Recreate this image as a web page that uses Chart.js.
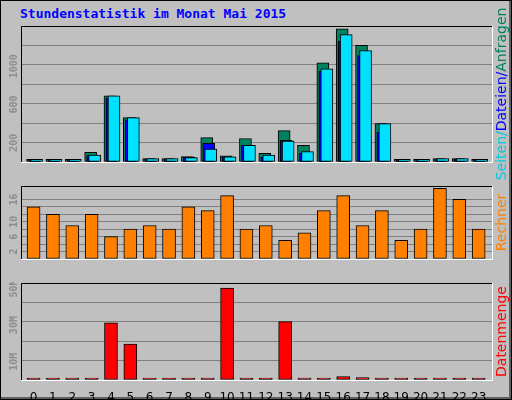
<!DOCTYPE html>
<html>
<head>
<meta charset="utf-8">
<script src="https://cdn.jsdelivr.net/npm/chart.js@4/dist/chart.umd.min.js"></script>
<style>
  body { margin: 0; }
  #wrap { position: relative; width: 512px; height: 400px; background: #c0c0c0; box-sizing: border-box;
          border-top: 1px solid #fff; border-left: 1px solid #fff; border-right: 3px solid #606060; border-bottom: 3px solid #606060;
          outline: 1px solid #000; outline-offset: -1px; }
  #title { position: absolute; left: 19px; top: 5px; font: bold 13px "DejaVu Sans Mono", monospace; color: #0000ff; }
  canvas { position: absolute; left: 0; }
</style>
</head>
<body>
<div id="wrap">
  <div id="title">Stundenstatistik im Monat Mai 2015</div>
  <canvas id="c1" style="top:0"></canvas>
  <canvas id="c2" style="top:184px"></canvas>
  <canvas id="c3" style="top:281px"></canvas>
</div>
<script>
// hours of the day
const hours = [0,1,2,3,4,5,6,7,8,9,10,11,12,13,14,15,16,17,18,19,20,21,22,23];
// Anfragen / Dateien / Seiten
const anfragen = [27,27,27,100,690,463,36,36,57,254,64,245,91,327,173,1036,1390,1218,400,27,27,36,36,27];
const dateien  = [20,20,20,66,666,439,30,30,48,194,55,173,48,227,91,948,1260,1112,312,20,20,30,30,20];
const seiten   = [27,27,27,73,690,463,36,36,45,136,55,173,73,218,109,973,1330,1163,400,27,27,36,36,27];
// Rechner
const rechner = [14,12,9,12,6,8,9,8,14,13,17,8,9,5,7,13,17,9,13,5,8,19,16,8];
// Datenmenge in bytes
const datenmenge = [0.3e6,0.3e6,0.3e6,0.3e6,31.3e6,19.6e6,0.3e6,0.3e6,0.3e6,0.3e6,50.2e6,0.3e6,0.3e6,31.9e6,0.3e6,0.3e6,1.9e6,1.3e6,0.3e6,0.3e6,0.3e6,0.3e6,0.3e6,0.3e6];
// y axis labels shown
const topTicks = [200, 600, 1000];
const midTicks = [2, 6, 10, 16];
const lowTicks = [10e6, 30e6, 50e6];

const pts = arr => arr.map((v, i) => ({ x: hours[i], y: v }));

// shift a dataset by some pixels sideways (overlapping webalizer bars)
const shiftPlugin = {
  id: 'shift',
  beforeDatasetDraw(chart, args) {
    const dx = chart.data.datasets[args.index].dx || 0;
    chart.ctx.save();
    chart.ctx.translate(dx, 0);
  },
  afterDatasetDraw(chart) { chart.ctx.restore(); }
};

// rotated axis labels, right title and panel frame
const decoPlugin = {
  id: 'deco',
  afterDraw(chart, args, o) {
    const { ctx, chartArea: a } = chart;
    const ys = chart.scales.y;
    ctx.save();
    // frame
    ctx.lineWidth = 1;
    ctx.strokeStyle = '#000';
    ctx.beginPath(); ctx.moveTo(a.left + 0.5, a.bottom); ctx.lineTo(a.left + 0.5, a.top + 0.5); ctx.lineTo(a.right, a.top + 0.5); ctx.stroke();
    ctx.strokeStyle = '#fff';
    ctx.beginPath(); ctx.moveTo(a.right + 0.5, a.top); ctx.lineTo(a.right + 0.5, a.bottom + 0.5); ctx.lineTo(a.left, a.bottom + 0.5); ctx.stroke();
    // y labels
    ctx.font = 'bold 10px "DejaVu Sans Mono", monospace';
    ctx.fillStyle = '#8c8c8c';
    ctx.textAlign = 'center';
    ctx.textBaseline = 'middle';
    o.ticks.forEach(v => {
      ctx.save();
      ctx.translate(13, ys.getPixelForValue(v));
      ctx.rotate(-Math.PI / 2);
      ctx.fillText(o.fmt ? o.fmt(v) : String(v), 0, 0);
      ctx.restore();
    });
    // right title, bottom to top
    ctx.font = '14px "DejaVu Sans", sans-serif';
    const total = o.parts.reduce((s, p) => s + ctx.measureText(p[0]).width, 0);
    ctx.translate(501, (a.top + a.bottom) / 2 + total / 2);
    ctx.rotate(-Math.PI / 2);
    ctx.textAlign = 'left';
    let x = 0;
    o.parts.forEach(p => { ctx.fillStyle = p[1]; ctx.fillText(p[0], x, 0); x += ctx.measureText(p[0]).width; });
    ctx.restore();
  }
};

function makeChart(id, h, padTop, padBottom, datasets, yMax, yStep, showX, deco) {
  const el = document.getElementById(id);
  el.width = 512; el.height = h;
  el.style.width = '512px'; el.style.height = h + 'px';
  return new Chart(el, {
    type: 'bar',
    data: { datasets },
    options: {
      responsive: false,
      animation: false,
      layout: { padding: { left: 20, right: 21, top: padTop, bottom: padBottom } },
      plugins: { legend: { display: false }, tooltip: { enabled: false }, deco },
      scales: {
        x: {
          type: 'linear', min: -0.65, max: 23.69, offset: false,
          display: showX,
          border: { display: false },
          grid: { display: false },
          afterBuildTicks: s => { s.ticks = hours.map(v => ({ value: v })); },
          afterFit: s => { s.height = 20; },
          ticks: {
            stepSize: 1, autoSkip: false, maxRotation: 0, padding: 3,
            color: '#000', font: { family: 'DejaVu Sans', size: 12 },
            callback: v => String(v)
          }
        },
        y: {
          min: 0, max: yMax,
          border: { display: false },
          grid: { color: '#808080', drawTicks: false },
          ticks: { display: false, stepSize: yStep }
        }
      }
    },
    plugins: [shiftPlugin, decoPlugin]
  });
}

const bar = (data, color, w, extra) => Object.assign({
  data: pts(data), backgroundColor: color, borderColor: '#000', borderWidth: 1,
  barThickness: w, grouped: false, borderSkipped: false, minBarLength: 2
}, extra);

makeChart('c1', 184, 25, 3, [
  bar(anfragen, '#00805f', 12, { order: 3, dx: -1 }),
  bar(dateien, '#0000ff', 12, { order: 2, dx: 1 }),
  bar(seiten, '#00e0ff', 12, { order: 1, dx: 3 })
], 1420, 200, false, {
  ticks: topTicks,
  parts: [['Seiten/', '#00c8e0'], ['Dateien/', '#0000ff'], ['Anfragen', '#00805f']]
});

makeChart('c2', 97, 1, 3, [
  bar(rechner, '#ff8000', 13)
], 19.6, 2, false, {
  ticks: midTicks,
  parts: [['Rechner', '#ff8000']]
});

makeChart('c3', 119, 1, 1, [
  bar(datenmenge, '#ff0000', 13)
], 53e6, 10e6, true, {
  ticks: lowTicks,
  fmt: v => (v / 1e6) + 'M',
  parts: [['Datenmenge', '#ff0000']]
});
</script>
</body>
</html>
